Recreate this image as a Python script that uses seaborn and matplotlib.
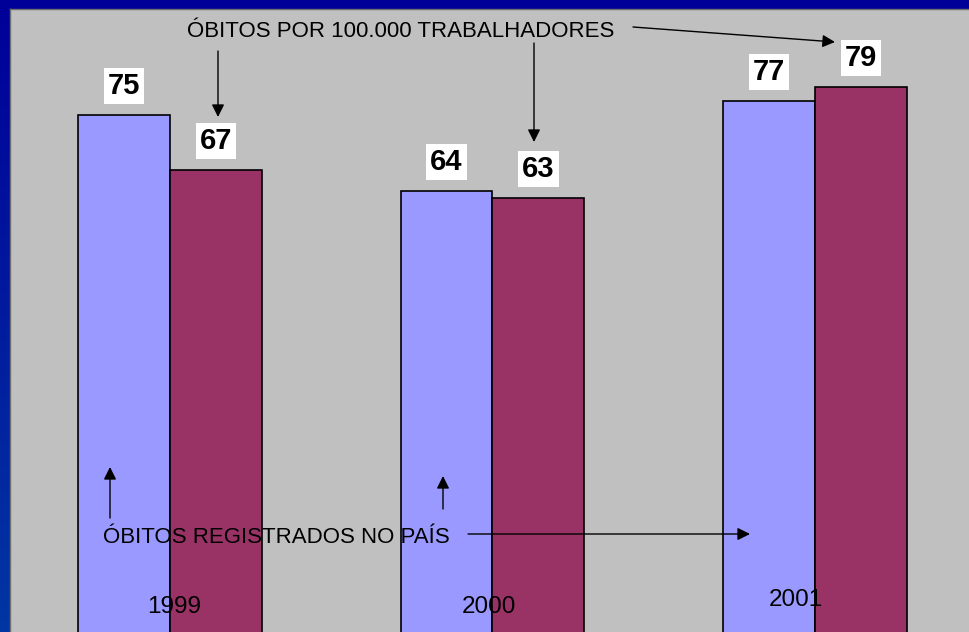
import numpy as np
import pandas as pd
import matplotlib
matplotlib.use("Agg")
import matplotlib.pyplot as plt
from matplotlib.colors import LinearSegmentedColormap
import seaborn as sns

# ---- data ----
years = ["1999", "2000", "2001"]
series_names = ["ÓBITOS REGISTRADOS NO PAÍS", "ÓBITOS POR 100.000 TRABALHADORES"]
registrados = [75, 64, 77]
por_100mil = [67, 63, 79]
colors = ["#9999FF", "#993366"]

df = pd.DataFrame({
    "ano": years * 2,
    "serie": [series_names[0]] * 3 + [series_names[1]] * 3,
    "valor": registrados + por_100mil,
})

sns.set_theme(style="white")
plt.rcParams["font.family"] = ["Liberation Sans", "DejaVu Sans"]

W, H = 970, 632
fig = plt.figure(figsize=(W / 100, H / 100), dpi=100)

def fp(x, y):
    return (x / W, 1 - y / H)

# blue gradient background frame
bg = fig.add_axes([0, 0, 1, 1])
grad = np.linspace(0, 1, 256).reshape(-1, 1)
cmap = LinearSegmentedColormap.from_list("frame", ["#000099", "#0036A3"])
bg.imshow(grad, aspect="auto", cmap=cmap, extent=[0, 1, 0, 1], origin="upper")
bg.set_axis_off()

ax = fig.add_axes([10 / W, 0, 960 / W, (H - 9) / H])
ax.set_facecolor("#C0C0C0")
sns.barplot(data=df, x="ano", y="valor", hue="serie", hue_order=series_names,
            palette=colors, saturation=1, width=0.57, gap=0,
            edgecolor="black", linewidth=1.2, legend=False, ax=ax, zorder=2)
ax.set_xlim(-0.496, 2.481)
ax.set_ylim(0.4, 90.3)
ax.set_xticks([])
ax.set_yticks([])
ax.set_xlabel("")
ax.set_ylabel("")
for s in ["right", "bottom"]:
    ax.spines[s].set_visible(False)
for s in ["top", "left"]:
    ax.spines[s].set_color("#6E6E6E")
    ax.spines[s].set_linewidth(1.0)

# value labels
for cont in ax.containers:
    for bar in cont:
        v = bar.get_height()
        ax.annotate(f"{v:.0f}", xy=(bar.get_x() + bar.get_width() / 2, v),
                    xytext=(0, 21), textcoords="offset points",
                    ha="center", va="center", fontsize=21, fontweight="bold",
                    color="black", zorder=5,
                    bbox=dict(boxstyle="square,pad=0.14", fc="white", ec="none"))

# year labels
year_pos = [(174, 613), (489, 613), (795.5, 606)]
for lab, (x, y) in zip(years, year_pos):
    fig.text(*fp(x, y), lab, ha="center", va="baseline", fontsize=17.5,
             color="black", zorder=6)

# annotation texts
fig.text(*fp(187, 37), series_names[1], ha="left", va="baseline",
         fontsize=16, color="black", zorder=6)
fig.text(*fp(103, 543), series_names[0], ha="left", va="baseline",
         fontsize=16, color="black", zorder=6)

arrows = [
    ((633, 27), (835, 42)),
    ((218, 51), (218, 117)),
    ((534, 43), (534, 142)),
    ((110, 518), (110, 467)),
    ((443, 509), (443, 476)),
    ((468, 534), (750, 534)),
]
for (x0, y0), (x1, y1) in arrows:
    ax.annotate("", xy=fp(x1, y1), xycoords="figure fraction",
                xytext=fp(x0, y0), textcoords="figure fraction",
                arrowprops=dict(arrowstyle="-|>,head_length=0.5,head_width=0.25",
                                mutation_scale=15, color="black", lw=1.0,
                                shrinkA=0, shrinkB=0),
                zorder=6)

fig.savefig("out.png", dpi=100)
